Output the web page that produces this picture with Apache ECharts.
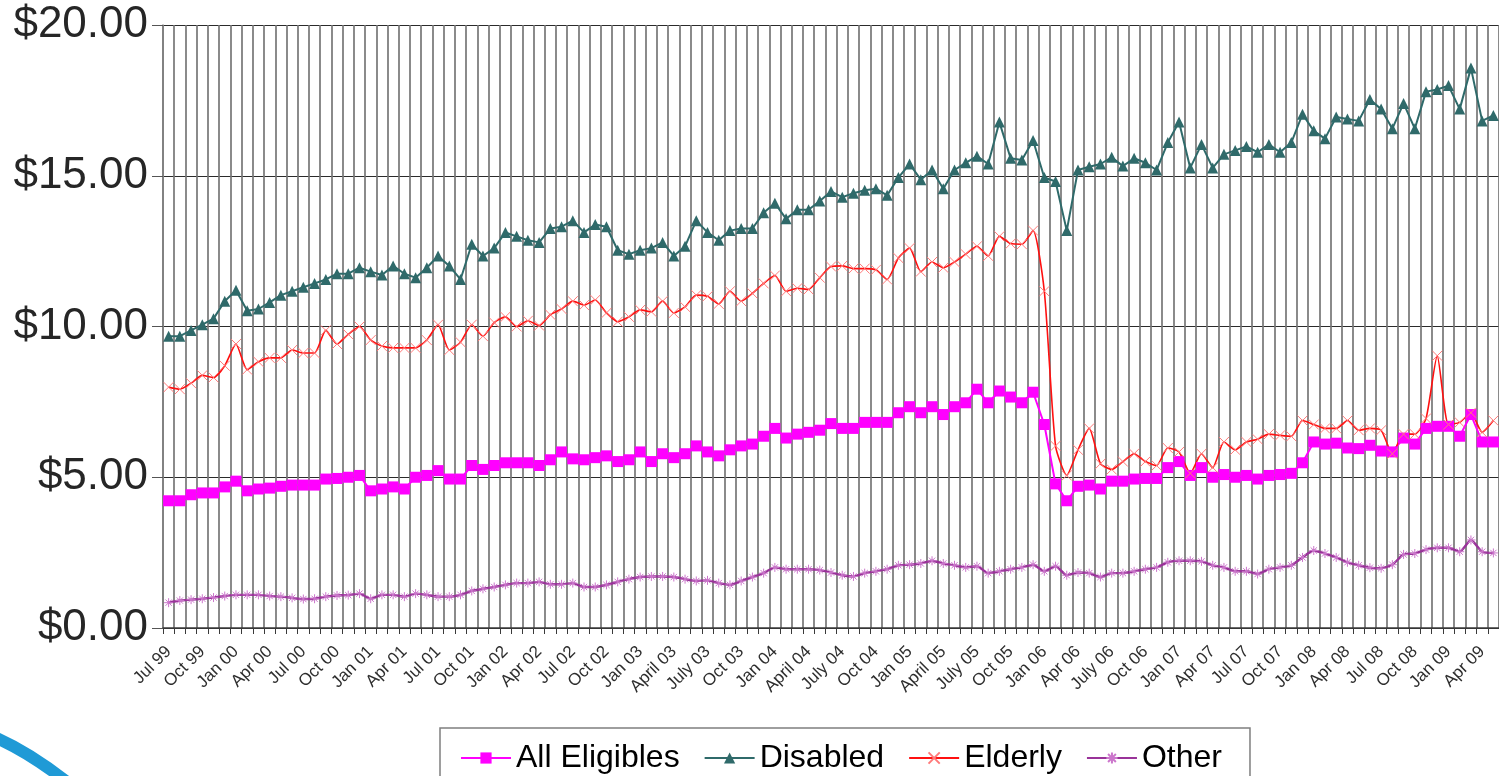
<!DOCTYPE html>
<html>
<head>
<meta charset="utf-8">
<script src="https://cdn.jsdelivr.net/npm/echarts@6/dist/echarts.min.js"></script>
<style>
  html, body { margin: 0; padding: 0; background: #ffffff; }
  #chart { width: 1499px; height: 776px; }
</style>
</head>
<body>
<div id="chart"></div>
<script>
// Months Jul 99 .. May 09 (last one is cut off at the right edge)
const categories = [
  "Jul 99","Aug 99","Sep 99","Oct 99","Nov 99","Dec 99",
  "Jan 00","Feb 00","Mar 00","Apr 00","May 00","Jun 00","Jul 00","Aug 00","Sep 00","Oct 00","Nov 00","Dec 00",
  "Jan 01","Feb 01","Mar 01","Apr 01","May 01","Jun 01","Jul 01","Aug 01","Sep 01","Oct 01","Nov 01","Dec 01",
  "Jan 02","Feb 02","Mar 02","Apr 02","May 02","Jun 02","Jul 02","Aug 02","Sep 02","Oct 02","Nov 02","Dec 02",
  "Jan 03","Feb 03","Mar 03","April 03","May 03","Jun 03","July 03","Aug 03","Sep 03","Oct 03","Nov 03","Dec 03",
  "Jan 04","Feb 04","Mar 04","April 04","May 04","Jun 04","July 04","Aug 04","Sep 04","Oct 04","Nov 04","Dec 04",
  "Jan 05","Feb 05","Mar 05","April 05","May 05","Jun 05","July 05","Aug 05","Sep 05","Oct 05","Nov 05","Dec 05",
  "Jan 06","Feb 06","Mar 06","Apr 06","May 06","Jun 06","July 06","Aug 06","Sep 06","Oct 06","Nov 06","Dec 06",
  "Jan 07","Feb 07","Mar 07","Apr 07","May 07","Jun 07","Jul 07","Aug 07","Sep 07","Oct 07","Nov 07","Dec 07",
  "Jan 08","Feb 08","Mar 08","Apr 08","May 08","Jun 08","Jul 08","Aug 08","Sep 08","Oct 08","Nov 08","Dec 08",
  "Jan 09","Feb 09","Mar 09","Apr 09","May 09"
];

const allEligibles = [
  4.22,4.22,4.42,4.48,4.48,4.68,4.87,4.55,4.61,4.64,4.70,4.74,4.74,4.74,4.94,4.96,5.00,5.06,4.55,4.61,4.68,4.61,5.00,5.06,5.22,4.94,4.94,5.39,5.26,5.39,
  5.48,5.48,5.48,5.39,5.58,5.84,5.61,5.58,5.65,5.71,5.52,5.58,5.84,5.52,5.78,5.65,5.78,6.04,5.84,5.71,5.91,6.04,6.10,6.36,6.62,6.30,6.43,6.49,6.56,6.78,
  6.62,6.62,6.82,6.82,6.82,7.14,7.34,7.14,7.34,7.08,7.34,7.47,7.92,7.47,7.86,7.66,7.47,7.82,6.75,4.78,4.22,4.70,4.74,4.61,4.87,4.87,4.94,4.96,4.96,
  5.32,5.52,5.06,5.32,5.00,5.09,5.00,5.06,4.94,5.06,5.09,5.13,5.48,6.17,6.10,6.13,5.97,5.95,6.06,5.87,5.84,6.30,6.10,6.62,6.69,6.69,6.36,7.08,6.17,6.17
];

const disabled = [
  9.68,9.68,9.87,10.06,10.26,10.84,11.20,10.52,10.58,10.80,11.04,11.17,11.30,11.43,11.56,11.75,11.75,11.95,11.82,11.71,12.01,11.75,11.62,11.95,12.34,12.01,11.56,12.73,12.34,12.60,
  13.12,12.99,12.86,12.79,13.25,13.31,13.51,13.12,13.38,13.31,12.53,12.40,12.53,12.60,12.79,12.34,12.66,13.51,13.12,12.86,13.18,13.25,13.25,13.77,14.09,13.57,13.87,13.87,14.16,14.48,
  14.29,14.42,14.52,14.57,14.35,14.94,15.39,14.87,15.19,14.57,15.19,15.43,15.65,15.39,16.78,15.58,15.52,16.17,14.94,14.81,13.18,15.19,15.30,15.39,15.61,15.32,15.58,15.43,15.19,
  16.10,16.78,15.26,16.04,15.26,15.71,15.84,15.97,15.78,16.04,15.78,16.10,17.04,16.49,16.23,16.95,16.88,16.82,17.53,17.21,16.56,17.40,16.56,17.79,17.86,17.99,17.21,18.57,16.82,17.00
];

const elderly = [
  7.99,7.92,8.12,8.38,8.31,8.70,9.42,8.57,8.83,8.96,8.96,9.22,9.12,9.12,9.87,9.42,9.74,10.00,9.55,9.35,9.29,9.29,9.29,9.55,10.06,9.22,9.48,10.06,9.68,10.13,
  10.32,10.00,10.19,10.03,10.39,10.58,10.84,10.71,10.88,10.45,10.16,10.32,10.55,10.49,10.84,10.45,10.65,11.04,11.00,10.75,11.17,10.84,11.10,11.43,11.69,11.17,11.27,11.23,11.62,11.99,
  12.01,11.92,11.92,11.88,11.56,12.27,12.60,11.82,12.14,11.95,12.14,12.40,12.66,12.34,12.99,12.75,12.73,13.18,11.17,6.04,5.06,5.91,6.62,5.45,5.26,5.52,5.78,5.52,5.39,
  5.97,5.84,5.13,5.78,5.32,6.17,5.91,6.17,6.26,6.43,6.39,6.36,6.88,6.75,6.62,6.62,6.88,6.56,6.62,6.56,5.78,6.43,6.43,6.95,9.03,6.75,6.82,7.14,6.49,6.88
];

const other = [
  0.84,0.91,0.94,0.97,1.01,1.06,1.10,1.10,1.10,1.06,1.04,1.00,0.96,0.97,1.04,1.08,1.09,1.14,0.97,1.10,1.10,1.04,1.14,1.10,1.04,1.04,1.10,1.23,1.30,1.36,
  1.43,1.49,1.49,1.53,1.45,1.45,1.49,1.36,1.36,1.43,1.53,1.62,1.69,1.71,1.71,1.69,1.62,1.56,1.58,1.49,1.43,1.56,1.69,1.82,2.01,1.95,1.95,1.95,1.92,1.84,
  1.75,1.71,1.82,1.88,1.95,2.08,2.10,2.14,2.23,2.14,2.08,2.01,2.05,1.82,1.88,1.95,2.01,2.10,1.88,2.05,1.75,1.84,1.82,1.69,1.82,1.82,1.88,1.95,2.01,
  2.18,2.23,2.23,2.21,2.08,2.01,1.88,1.88,1.79,1.95,2.01,2.08,2.34,2.57,2.47,2.34,2.18,2.08,2.00,1.98,2.10,2.44,2.47,2.60,2.66,2.66,2.53,2.92,2.53,2.49
];

const yTicks = { min: 0, max: 20, interval: 5 };
const seriesNames = ["All Eligibles", "Disabled", "Elderly", "Other"];

const FONT = "'Liberation Sans', Arial, sans-serif";
const xSymbol = 'path://M0,0L10,10M10,0L0,10';
const starSymbol = 'path://M5,0L5,10M0,5L10,5M1.5,1.5L8.5,8.5M8.5,1.5L1.5,8.5';

const chart = echarts.init(document.getElementById('chart'), null, { renderer: 'canvas' });

chart.setOption({
  animation: false,
  backgroundColor: '#ffffff',
  textStyle: { fontFamily: FONT },
  grid: { left: 163, top: 25, width: 1344.7, height: 603, containLabel: false },
  xAxis: {
    type: 'category',
    data: categories,
    boundaryGap: true,
    axisLine: { show: true, lineStyle: { color: '#3a3a3a', width: 1.5 } },
    axisTick: { show: true, interval: 0, length: 6, lineStyle: { color: '#3a3a3a', width: 1 } },
    axisLabel: {
      interval: 2, rotate: 45, fontSize: 17, color: '#2e2e2e', margin: 21,
      fontFamily: FONT
    },
    splitLine: { show: true, interval: 0, lineStyle: { color: '#767676', width: 1.7 } }
  },
  yAxis: {
    type: 'value',
    min: yTicks.min, max: yTicks.max, interval: yTicks.interval,
    axisLine: { show: true, lineStyle: { color: '#7f7f7f', width: 1.5 } },
    axisTick: { show: true, length: 11, lineStyle: { color: '#555555', width: 1 } },
    axisLabel: {
      fontSize: 44, color: '#262626', margin: 15, fontFamily: FONT,
      formatter: v => '$' + v.toFixed(2)
    },
    splitLine: { show: true, lineStyle: { color: '#2b2b2b', width: 1.2 } }
  },
  legend: {
    data: seriesNames,
    left: 440, top: 728,
    orient: 'horizontal',
    itemWidth: 50, itemHeight: 14, itemGap: 24,
    padding: [14, 28, 14, 20],
    borderColor: '#7f7f7f', borderWidth: 1.5,
    textStyle: { fontSize: 32, color: '#000000', fontFamily: FONT }
  },
  graphic: [{
    type: 'bezierCurve',
    shape: { x1: -8, y1: 736, cpx1: 30, cpy1: 752, x2: 72, y2: 786 },
    style: { stroke: '#1f9ad6', lineWidth: 12, fill: 'none' },
    silent: true
  }],
  series: [
    {
      name: seriesNames[0], type: 'line', data: allEligibles,
      showAllSymbol: true,
      symbol: 'rect', symbolSize: 11,
      lineStyle: { color: '#ff00ff', width: 2 },
      itemStyle: { color: '#ff00ff' }
    },
    {
      name: seriesNames[1], type: 'line', data: disabled,
      showAllSymbol: true,
      symbol: 'triangle', symbolSize: 11,
      lineStyle: { color: '#2f6a6a', width: 2 },
      itemStyle: { color: '#2f6a6a' }
    },
    {
      name: seriesNames[2], type: 'line', data: elderly, smooth: 0.2,
      showAllSymbol: true,
      symbol: xSymbol, symbolSize: 10,
      lineStyle: { color: '#ff1010', width: 1.6 },
      itemStyle: { color: '#ff1010', borderColor: '#ff7a7a', borderWidth: 1 }
    },
    {
      name: seriesNames[3], type: 'line', data: other, smooth: 0.2,
      showAllSymbol: true,
      symbol: starSymbol, symbolSize: 9,
      lineStyle: { color: '#993399', width: 2.4 },
      itemStyle: { color: '#993399', borderColor: '#cc77cc', borderWidth: 1 }
    }
  ]
});
</script>
</body>
</html>
